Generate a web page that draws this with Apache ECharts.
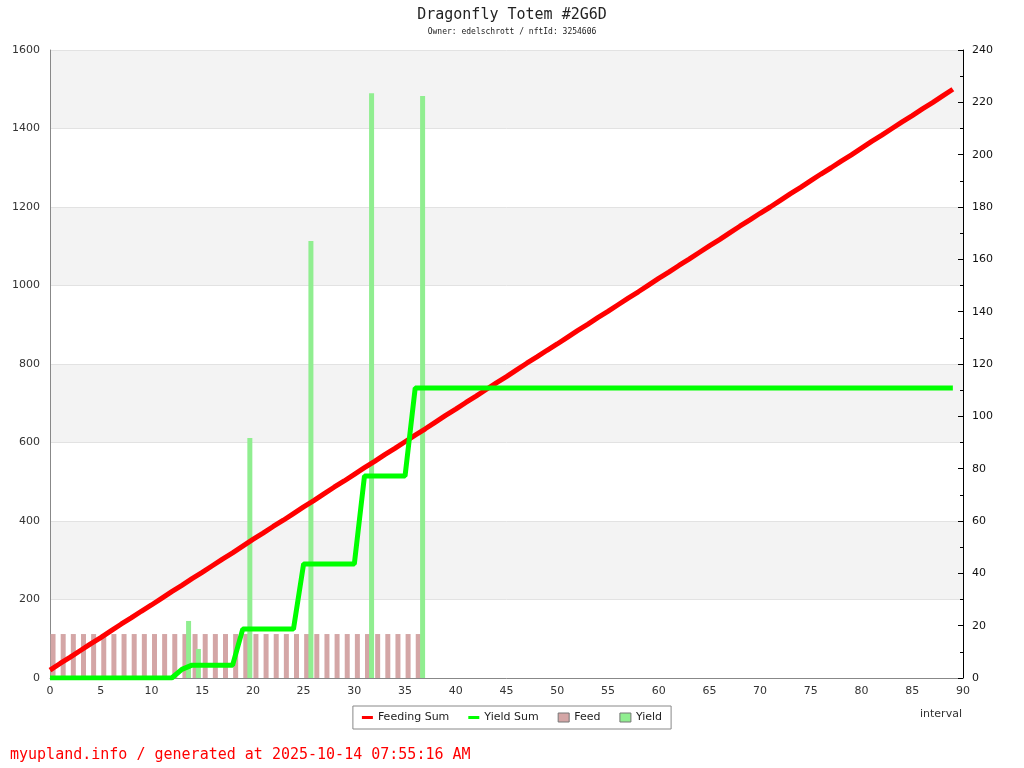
<!DOCTYPE html>
<html>
<head>
<meta charset="utf-8">
<script src="https://cdn.jsdelivr.net/npm/echarts@6/dist/echarts.min.js"></script>
<style>html,body{margin:0;padding:0;background:#fff}#c{width:1024px;height:768px}</style>
</head>
<body>
<div id="c"></div>
<script>
var titleText = 'Dragonfly Totem #2G6D';
var subText = 'Owner: edelschrott / nftId: 3254606';
var footerText = 'myupland.info / generated at 2025-10-14 07:55:16 AM';

// feeding sum (left axis), one value per interval 0..89
var feedingSum = [20,37,53,70,87,103,120,137,153,170,186,203,220,236,253,269,286,303,319,336,
  353,369,386,402,419,436,452,469,486,502,519,536,552,569,585,602,619,635,652,669,
  685,702,718,735,752,768,785,802,818,835,851,868,885,901,918,934,951,968,984,1001,
  1018,1034,1051,1067,1084,1101,1117,1134,1151,1167,1184,1200,1217,1234,1250,1267,1284,1300,1317,1333,
  1350,1367,1383,1400,1417,1433,1450,1466,1483,1500];

// yield sum (right axis), one value per interval 0..89
var yieldSum = [0,0,0,0,0,0,0,0,0,0,0,0,0,3.3,4.9,4.9,4.9,4.9,4.9,18.7,
  18.7,18.7,18.7,18.7,18.7,43.6,43.6,43.6,43.6,43.6,43.6,77.2,77.2,77.2,77.2,77.2,110.8,110.8,110.8,110.8,
  110.8,110.8,110.8,110.8,110.8,110.8,110.8,110.8,110.8,110.8,110.8,110.8,110.8,110.8,110.8,110.8,110.8,110.8,110.8,110.8,
  110.8,110.8,110.8,110.8,110.8,110.8,110.8,110.8,110.8,110.8,110.8,110.8,110.8,110.8,110.8,110.8,110.8,110.8,110.8,110.8,
  110.8,110.8,110.8,110.8,110.8,110.8,110.8,110.8,110.8,110.8];

// feed bars (right axis)
var feedX = [0.3,1.3,2.3,3.3,4.3,5.3,6.3,7.3,8.3,9.3,10.3,11.3,12.3,13.3,14.3,15.3,16.3,17.3,18.3,
  19.3,20.3,21.3,22.3,23.3,24.3,25.3,26.3,27.3,28.3,29.3,30.3,31.3,32.3,33.3,34.3,35.3,36.3];
var feedVal = [16.8,16.8,16.8,16.8,16.8,16.8,16.8,16.8,16.8,16.8,16.8,16.8,16.8,16.8,16.8,16.8,16.8,16.8,16.8,
  16.8,16.8,16.8,16.8,16.8,16.8,16.8,16.8,16.8,16.8,16.8,16.8,16.8,16.8,16.8,16.8,16.8,16.8];

// yield bars (right axis)
var yieldX = [13.66,14.63,19.7,25.72,31.7,36.73];
var yieldVal = [21.8,11.1,91.7,167,223.5,222.4];

function pairs(xs, ys){ return xs.map(function(x,i){return [x, ys[i]];}); }
function idxPairs(ys){ return ys.map(function(v,i){return [i, v];}); }
function plain(v){ return String(v); }

var chart = echarts.init(document.getElementById('c'), null, {renderer:'canvas'});
var labelFont = {fontFamily:'DejaVu Sans', fontSize:11};
chart.setOption({
  animation:false,
  backgroundColor:'#ffffff',
  title:[
    {text:titleText, left:'center', top:3, textStyle:{fontFamily:'DejaVu Sans Mono', fontSize:15, fontWeight:'normal', color:'#222'}},
    {text:subText, left:'center', top:23, textStyle:{fontFamily:'DejaVu Sans Mono', fontSize:8, fontWeight:'normal', color:'#222'}}
  ],
  grid:{left:50, right:61, top:50, bottom:90, containLabel:false},
  legend:{
    left:'center', top:706, orient:'horizontal',
    borderColor:'#888', borderWidth:1, padding:[6,9,6,9],
    itemGap:19, itemWidth:11, itemHeight:9,
    textStyle:{fontFamily:'DejaVu Sans', fontSize:11, color:'#222'},
    data:[
      {name:'Feeding Sum', icon:'path://M0,0H0.01V0.01H0Z M0,3H11V6H0Z M0,9H0.01V9.01H0Z'},
      {name:'Yield Sum', icon:'path://M0,0H0.01V0.01H0Z M0,3H11V6H0Z M0,9H0.01V9.01H0Z'},
      {name:'Feed', icon:'rect', itemStyle:{borderColor:'#777', borderWidth:1}},
      {name:'Yield', icon:'rect', itemStyle:{borderColor:'#777', borderWidth:1}}
    ]
  },
  xAxis:{
    type:'value', min:0, max:90, interval:5,
    axisLine:{show:true, lineStyle:{color:'#888'}},
    axisTick:{show:false},
    splitLine:{show:false},
    axisLabel:Object.assign({color:'#333', margin:8, formatter:plain}, labelFont)
  },
  yAxis:[
    {type:'value', min:0, max:1600, interval:200, position:'left',
     axisLine:{show:true, lineStyle:{color:'#888'}},
     axisTick:{show:false},
     axisLabel:Object.assign({color:'#333', margin:10, formatter:plain}, labelFont),
     splitLine:{show:true, lineStyle:{color:'#e2e2e2'}},
     splitArea:{show:true, areaStyle:{color:['#ffffff','#f3f3f3']}}},
    {type:'value', min:0, max:240, interval:20, position:'right',
     axisLine:{show:true, lineStyle:{color:'#000'}},
     axisTick:{show:true, inside:true, length:5, lineStyle:{color:'#000'}},
     minorTick:{show:true, splitNumber:2, length:3, lineStyle:{color:'#000'}},
     axisLabel:Object.assign({color:'#111', margin:9, formatter:plain}, labelFont),
     splitLine:{show:false}}
  ],
  graphic:[
    {type:'text', left:920, top:709, style:{text:'interval', font:'11px "DejaVu Sans"', fill:'#333'}},
    {type:'text', left:10, top:748, style:{text:footerText, font:'15px "DejaVu Sans Mono"', fill:'#ff0000'}}
  ],
  series:[
    {name:'Feed', type:'bar', yAxisIndex:1, barWidth:5, barGap:'-100%', z:1,
     itemStyle:{color:'#d4a6a6'}, data:pairs(feedX, feedVal)},
    {name:'Yield', type:'bar', yAxisIndex:1, barWidth:5, barGap:'-100%', z:2,
     itemStyle:{color:'#90ee90'}, data:pairs(yieldX, yieldVal)},
    {name:'Feeding Sum', type:'line', yAxisIndex:0, symbol:'none', z:3,
     lineStyle:{color:'#ff0000', width:5}, itemStyle:{color:'#ff0000'}, data:idxPairs(feedingSum)},
    {name:'Yield Sum', type:'line', yAxisIndex:1, symbol:'none', z:4,
     lineStyle:{color:'#00ff00', width:5}, itemStyle:{color:'#00ff00'}, data:idxPairs(yieldSum)}
  ]
});
</script>
</body>
</html>
